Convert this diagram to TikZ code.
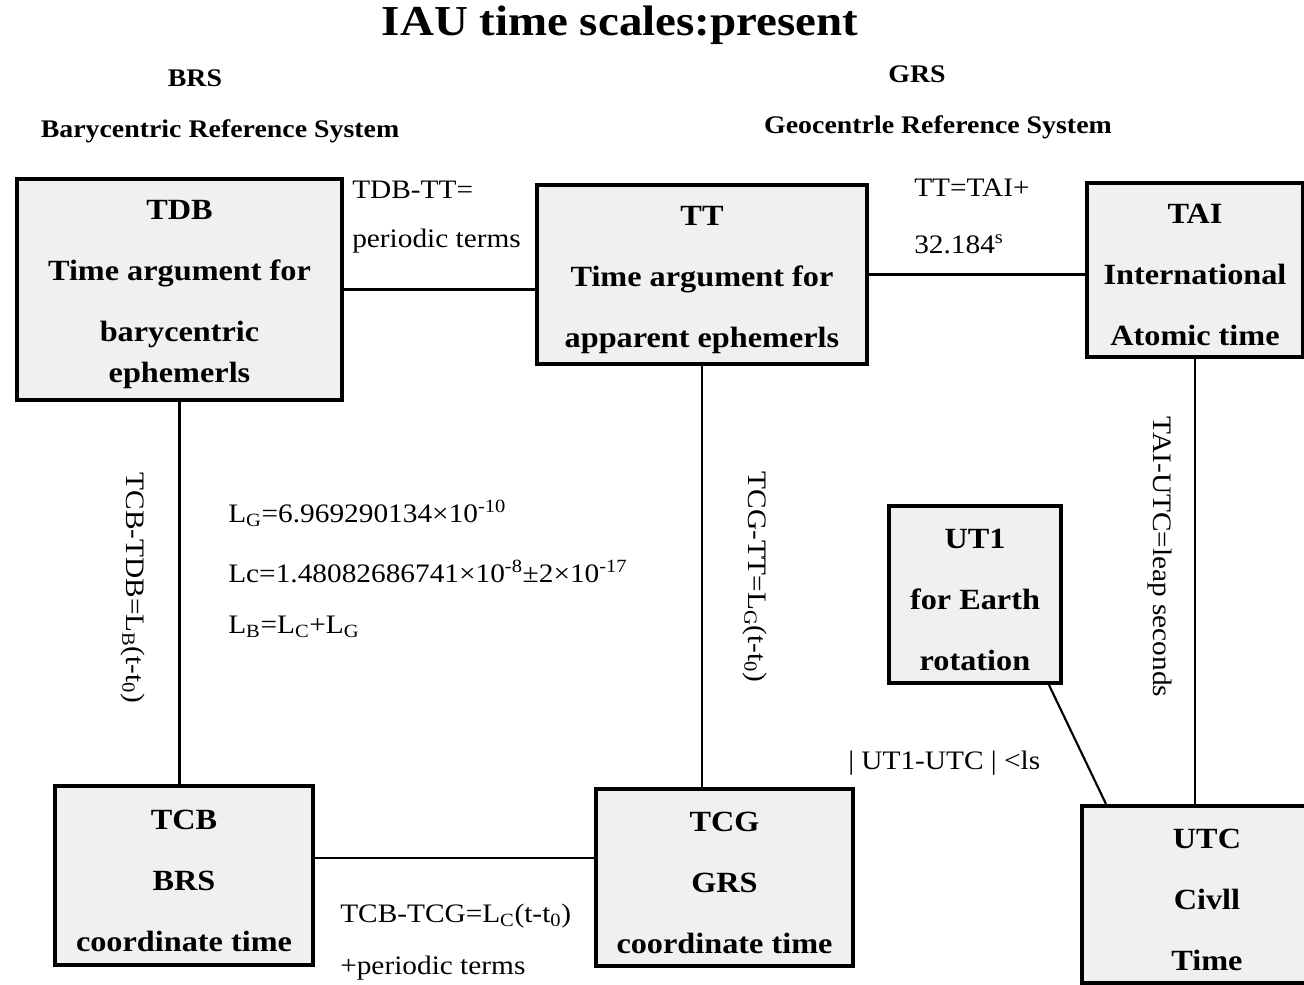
\documentclass[tikz,border=0pt]{standalone}
\usepackage{fontspec}
\setmainfont[FakeStretch=1.1]{Liberation Serif}
\usepackage{xcolor}
\newcommand{\boxtop}{\rule{0pt}{22pt}}

\begin{document}
\begin{tikzpicture}[x=0.75pt, y=-0.75pt, every node/.style={align=center, inner sep=0pt},
    tbox/.style={draw, line width=3pt, fill=gray!12, font=\fontsize{22}{45.75}\selectfont\bfseries},
    lbl/.style={anchor=west, font=\fontsize{20}{24}\selectfont},
    vlbl/.style={rotate=-90, font=\fontsize{20}{24}\selectfont},
    hdr/.style={font=\fontsize{19}{23}\selectfont\bfseries},
    link/.style={line width=1.6pt}]
    \clip (0,0) rectangle (1304,985);

    \node[font=\fontsize{32}{38}\selectfont\bfseries] (title) at (620,25) {IAU time scales:present};
    \node[hdr] (brs) at (195,78) {BRS};
    \node[hdr] (brsname) at (220,131) {Barycentric Reference System};
    \node[hdr] (grs) at (917,74) {GRS};
    \node[hdr] (grsname) at (938,127) {Geocentrle Reference System};

    \node[tbox, minimum width=243.75pt, minimum height=165.75pt] (tdb) at (179.5,289.5)
      {\boxtop TDB\\Time argument for\\barycentric\\[-15pt]ephemerls};
    \node[tbox, minimum width=247.5pt, minimum height=134.25pt] (tt) at (702,274.5)
      {\boxtop TT\\Time argument for\\apparent ephemerls};
    \node[tbox, minimum width=162pt, minimum height=130.5pt] (tai) at (1195,270)
      {\boxtop TAI\\International\\Atomic time};
    \node[tbox, minimum width=129pt, minimum height=132.75pt] (ut1) at (975,594.5)
      {\boxtop UT1\\for Earth\\rotation};
    \node[tbox, minimum width=193.5pt, minimum height=134.25pt] (tcb) at (184,875.5)
      {\boxtop TCB\\BRS\\coordinate time};
    \node[tbox, minimum width=192.75pt, minimum height=132.75pt] (tcg) at (724.5,877.5)
      {\boxtop TCG\\GRS\\coordinate time};
    \node[tbox, minimum width=187.5pt, minimum height=132.75pt] (utc) at (1207,894.5)
      {\boxtop UTC\\Civll\\Time};

    \node[lbl] (tdbtt1) at (352,190) {TDB-TT=};
    \node[lbl] (tdbtt2) at (352,241) {periodic terms};
    \node[lbl] (tttai1) at (914,188) {TT=TAI+};
    \node[lbl] (tttai2) at (914,244) {32.184\textsuperscript{s}};
    \node[lbl] (lg) at (228,513) {L\textsubscript{G}=6.969290134×10\textsuperscript{-10}};
    \node[lbl] (lc) at (228,571) {Lc=1.48082686741×10\textsuperscript{-8}±2×10\textsuperscript{-17}};
    \node[lbl] (lb) at (228,627) {L\textsubscript{B}=L\textsubscript{C}+L\textsubscript{G}};
    \node[vlbl] (tcbtdb) at (133,588) {TCB-TDB=L\textsubscript{B}(t-t\textsubscript{0})};
    \node[vlbl] (tcgtt) at (755,577) {TCG-TT=L\textsubscript{G}(t-t\textsubscript{0})};
    \node[vlbl] (taiutc) at (1160,557) {TAI-UTC=leap seconds};
    \node[lbl] (ut1utc) at (848,763) {| UT1-UTC | <ls};
    \node[lbl] (tcbtcg1) at (340,916) {TCB-TCG=L\textsubscript{C}(t-t\textsubscript{0})};
    \node[lbl] (tcbtcg2) at (340,968) {+periodic terms};

    \draw[link] (tdb.east) -- (tdb.east -| tt.west);
    \draw[link] (tt.east) -- (tt.east -| tai.west);
    \draw[link] (tdb.south) -- (tdb.south |- tcb.north);
    \draw[link] (tt.south) -- (tt.south |- tcg.north);
    \draw[link] ([yshift=13pt]tcb.east) -- ([yshift=13pt]tcb.east -| tcg.west);
    \draw[link] (tai.south) -- (tai.south |- utc.north);
    \draw[link] ([xshift=-10.5pt]ut1.south east) -- ([xshift=19.5pt]utc.north west);
  \end{tikzpicture}
\end{document}
